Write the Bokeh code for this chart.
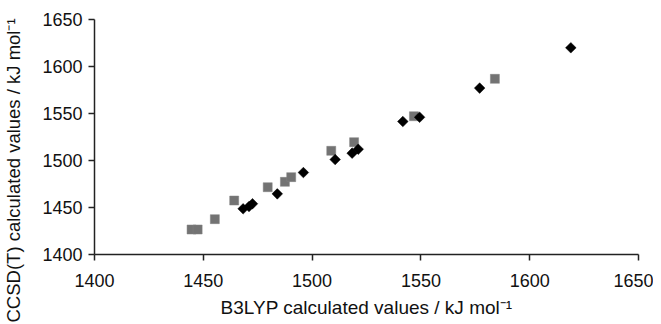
import math
from bokeh.plotting import figure
from bokeh.models import Title, FixedTicker
from bokeh.embed import file_html
from bokeh.resources import INLINE

# Series 1: grey squares
sq_x = [1444.6, 1447.4, 1455.3, 1464.2, 1479.6, 1487.5, 1490.4, 1508.8, 1519.3, 1546.8, 1584.0]
sq_y = [1426.6, 1426.6, 1437.6, 1457.4, 1471.6, 1477.3, 1482.3, 1510.3, 1519.5, 1547.1, 1586.9]

# Series 2: black diamonds
dm_x = [1468.3, 1471.0, 1472.6, 1484.0, 1496.0, 1510.6, 1518.4, 1521.2, 1541.7, 1549.4, 1577.0, 1618.9]
dm_y = [1448.6, 1451.0, 1454.0, 1464.5, 1487.2, 1501.0, 1507.8, 1512.0, 1541.5, 1546.0, 1577.0, 1619.9]

ticks = [1400, 1450, 1500, 1550, 1600, 1650]
x_title = "B3LYP calculated values / kJ mol\u207b\u00b9"
y_title = "CCSD(T) calculated values / kJ mol\u207b\u00b9"

FONT = "Liberation Sans"

p = figure(width=653, height=324, output_backend="svg", toolbar_location=None,
           x_range=(1400, 1650), y_range=(1400, 1650),
           min_border_left=94, min_border_right=15, min_border_top=19, min_border_bottom=70)
p.outline_line_color = None
p.xgrid.visible = False
p.ygrid.visible = False
p.background_fill_color = "white"
p.border_fill_color = "white"

for ax in (p.xaxis[0], p.yaxis[0]):
    ax.ticker = FixedTicker(ticks=ticks)
    ax.minor_tick_line_color = None
    ax.major_tick_in = 0
    ax.major_tick_out = 6
    ax.axis_line_width = 1.5
    ax.axis_line_color = "#222222"
    ax.major_tick_line_width = 1.5
    ax.major_tick_line_color = "#222222"
    ax.major_label_text_font = FONT
    ax.major_label_text_font_size = "18px"
    ax.major_label_text_color = "#111111"

p.xaxis[0].major_label_standoff = 13
p.yaxis[0].major_label_standoff = 6
p.xaxis[0].axis_label = x_title
p.xaxis[0].axis_label_text_font = FONT
p.xaxis[0].axis_label_text_font_size = "19px"
p.xaxis[0].axis_label_text_font_style = "normal"
p.xaxis[0].axis_label_text_color = "#111111"
p.xaxis[0].axis_label_standoff = 7

p.scatter(sq_x, sq_y, marker="square", size=9, fill_color="#737373", line_color="#808080", line_width=0.5)
p.scatter(dm_x, dm_y, marker="square", angle=math.pi / 4, size=7.5, fill_color="#000000", line_color="#000000", line_width=0.5)

spacer = Title(text=" ", text_font=FONT, text_font_size="11px", standoff=0, text_color="white")
p.add_layout(spacer, "left")

ytitle = Title(text=y_title, align="left", offset=-68, vertical_align="top",
               text_font=FONT, text_font_size="18.5px", text_font_style="normal",
               text_color="#111111", standoff=0)
p.add_layout(ytitle, "left")

open("out.html", "w").write(file_html(p, INLINE))
